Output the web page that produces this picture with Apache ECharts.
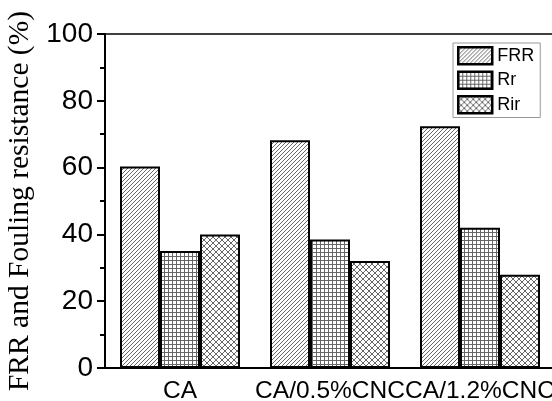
<!DOCTYPE html>
<html>
<head>
<meta charset="utf-8">
<script src="https://cdn.jsdelivr.net/npm/echarts@6/dist/echarts.min.js"></script>
<style>html,body{margin:0;padding:0;background:#fff;}#c{width:552px;height:401px;}</style>
</head>
<body>
<div id="c"></div>
<script>
var categories = ['CA', 'CA/0.5%CNC', 'CA/1.2%CNC'];
var seriesNames = ['FRR', 'Rr', 'Rir'];
var frr = [60.3, 68.2, 72.4];
var rr = [35.0, 38.5, 42.0];
var rir = [40.0, 32.0, 27.9];
var yTicks = [0, 20, 40, 60, 80, 100];

function makePattern(kind) {
  var c = document.createElement('canvas');
  var s = kind === 'cross' ? 6 : 4;
  c.width = s; c.height = s;
  var g = c.getContext('2d');
  g.fillStyle = '#ffffff';
  g.fillRect(0, 0, s, s);
  g.strokeStyle = '#666666';
  g.lineWidth = 1;
  g.beginPath();
  if (kind === 'diag') {
    g.moveTo(-1, s + 1); g.lineTo(s + 1, -1);
    g.moveTo(-1, 1); g.lineTo(1, -1);
    g.moveTo(s - 1, s + 1); g.lineTo(s + 1, s - 1);
  } else if (kind === 'grid') {
    g.moveTo(0.5, 0); g.lineTo(0.5, s);
    g.moveTo(0, 0.5); g.lineTo(s, 0.5);
  } else {
    g.moveTo(0, 0); g.lineTo(s, s);
    g.moveTo(0, s); g.lineTo(s, 0);
  }
  g.stroke();
  return { image: c, repeat: 'repeat' };
}

var patterns = [makePattern('diag'), makePattern('grid'), makePattern('cross')];
var values = [frr, rr, rir];

var chart = echarts.init(document.getElementById('c'), null, { renderer: 'canvas' });
var font = 'Liberation Sans';
chart.setOption({
  animation: false,
  backgroundColor: '#ffffff',
  grid: { left: 105, top: 34, right: -3, bottom: 33, containLabel: false, outerBoundsMode: 'none' },
  legend: {
    orient: 'vertical',
    left: 453, top: 43,
    itemWidth: 34, itemHeight: 17, itemGap: 5,
    padding: [3, 6, 3, 4],
    borderColor: '#999', borderWidth: 1,
    icon: 'rect',
    itemStyle: { borderColor: '#000', borderWidth: 2.5 },
    textStyle: { fontFamily: font, fontSize: 18, color: '#000' },
    data: seriesNames
  },
  xAxis: [
    {
      type: 'category', position: 'bottom', data: categories,
      axisLine: { lineStyle: { color: '#000', width: 2 } },
      axisTick: { alignWithLabel: true, length: 8, lineStyle: { color: '#000', width: 2 } },
      axisLabel: { fontFamily: font, fontSize: 24.5, color: '#000', margin: 11, interval: 0 },
      splitLine: { show: false }
    },
    {
      type: 'category', position: 'bottom', data: categories,
      axisLine: { show: false },
      axisTick: { length: 4, lineStyle: { color: '#000', width: 2 } },
      axisLabel: { show: false },
      splitLine: { show: false }
    },
    {
      type: 'category', position: 'top', data: categories,
      axisLine: { lineStyle: { color: '#000', width: 1.5 } },
      axisTick: { show: false },
      axisLabel: { show: false },
      splitLine: { show: false }
    }
  ],
  yAxis: {
    type: 'value', min: yTicks[0], max: yTicks[yTicks.length - 1], interval: 20,
    name: 'FRR and Fouling resistance (%)',
    nameLocation: 'middle', nameGap: 62,
    nameTextStyle: { fontFamily: 'Liberation Serif', fontSize: 29.5, color: '#000' },
    axisLine: { show: true, lineStyle: { color: '#000', width: 2 } },
    axisTick: { show: true, length: 8, lineStyle: { color: '#000', width: 2 } },
    minorTick: { show: true, splitNumber: 2, length: 5, lineStyle: { color: '#000', width: 2 } },
    axisLabel: { fontFamily: font, fontSize: 28, color: '#000', margin: 12 },
    splitLine: { show: false }
  },
  series: seriesNames.map(function (n, i) {
    return {
      name: n, type: 'bar', xAxisIndex: 0, data: values[i],
      barGap: '0%', barCategoryGap: '20%',
      itemStyle: { color: patterns[i], borderColor: '#000', borderWidth: 2 }
    };
  })
});
</script>
</body>
</html>
